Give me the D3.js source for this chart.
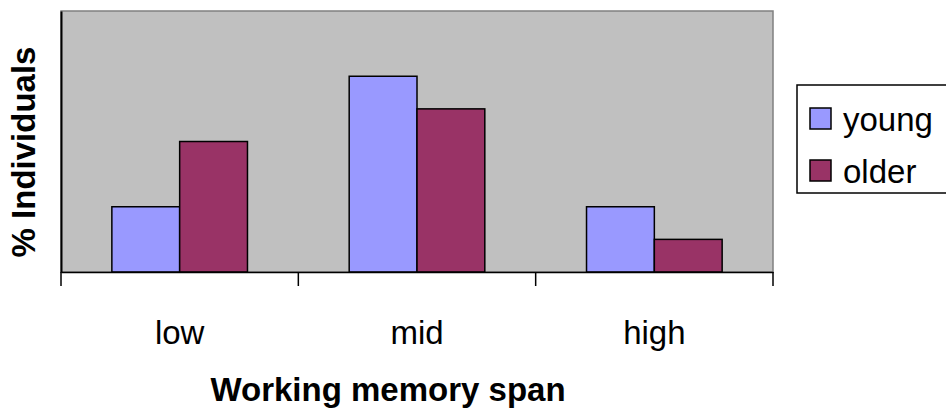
<!DOCTYPE html>
<html><head><meta charset="utf-8">
<script src="https://cdn.jsdelivr.net/npm/d3@7/dist/d3.min.js"></script>
<style>html,body{margin:0;padding:0;background:#fff;overflow:hidden}svg{display:block}</style>
</head><body>
<svg id="c" width="946" height="411"></svg>
<script>
const categories = ["low", "mid", "high"];
const seriesNames = ["young", "older"];
const youngValues = [20, 60, 20];
const olderValues = [40, 50, 10];
const yDomain = [0, 80];
const colors = ["#9999FF", "#993366"];

const svg = d3.select("#c");
const plot = {left: 61, top: 11, right: 773, bottom: 272};
const font = "Liberation Sans, Arial, sans-serif";

const x0 = d3.scaleBand().domain(categories).range([plot.left, plot.right]).paddingInner(0).paddingOuter(0);
const x1 = d3.scaleBand().domain(seriesNames).range([0, x0.bandwidth()]).paddingInner(0).paddingOuter(0.75);
const y = d3.scaleLinear().domain(yDomain).range([plot.bottom, plot.top]);

// plot area
svg.append("rect").attr("x", plot.left).attr("y", plot.top)
  .attr("width", plot.right - plot.left).attr("height", plot.bottom - plot.top)
  .attr("fill", "#C0C0C0").attr("stroke", "#808080").attr("stroke-width", 1.5);

const data = categories.map((c, i) => ({cat: c, vals: [youngValues[i], olderValues[i]]}));
const g = svg.append("g").selectAll("g").data(data).join("g")
  .attr("transform", d => `translate(${x0(d.cat)},0)`);
g.selectAll("rect").data(d => d.vals.map((v, j) => ({s: seriesNames[j], v, j})))
  .join("rect")
  .attr("x", d => x1(d.s)).attr("width", x1.bandwidth())
  .attr("y", d => y(d.v)).attr("height", d => y(0) - y(d.v))
  .attr("fill", d => colors[d.j]).attr("stroke", "#000").attr("stroke-width", 1.5);

// y axis line
const yAx = svg.append("g").attr("transform", `translate(${plot.left},0)`)
  .call(d3.axisLeft(y).tickValues([]).tickSize(0));
yAx.select(".domain").attr("stroke", "#000").attr("stroke-width", 2);

// x axis with boundary ticks
const xAx = svg.append("g").attr("transform", `translate(0,${plot.bottom})`)
  .call(d3.axisBottom(x0).tickValues([]).tickSizeOuter(0));
xAx.select(".domain").attr("stroke", "#000").attr("stroke-width", 1.5);
const bounds = categories.map(c => x0(c)).concat([x0(categories[categories.length-1]) + x0.bandwidth()]);
svg.append("g").selectAll("line").data(bounds).join("line")
  .attr("x1", d => d).attr("x2", d => d)
  .attr("y1", plot.bottom).attr("y2", plot.bottom + 14)
  .attr("stroke", "#000").attr("stroke-width", 1.5);

// category labels
svg.append("g").selectAll("text").data(categories).join("text")
  .attr("x", d => x0(d) + x0.bandwidth()/2).attr("y", 344)
  .attr("text-anchor", "middle").attr("font-family", font).attr("font-size", 33)
  .text(d => d);

// axis titles
svg.append("text").attr("x", 388).attr("y", 401).attr("text-anchor", "middle")
  .attr("font-family", font).attr("font-size", 33).attr("font-weight", "bold")
  .text("Working memory span");
svg.append("text").attr("transform", "translate(35,152) rotate(-90)")
  .attr("text-anchor", "middle").attr("font-family", font).attr("font-size", 33)
  .attr("font-weight", "bold").text("% Individuals");

// legend
const lg = svg.append("g");
lg.append("rect").attr("x", 797).attr("y", 85).attr("width", 200).attr("height", 108)
  .attr("fill", "#fff").attr("stroke", "#000").attr("stroke-width", 1.5);
const items = lg.selectAll("g").data(seriesNames).join("g")
  .attr("transform", (d, i) => `translate(0,${i * 52})`);
items.append("rect").attr("x", 810).attr("y", 108).attr("width", 21).attr("height", 21)
  .attr("fill", (d, i) => colors[i]).attr("stroke", "#000").attr("stroke-width", 1.5);
items.append("text").attr("x", 843).attr("y", 131).attr("font-family", font)
  .attr("font-size", 33).text(d => d);
</script>
</body></html>
